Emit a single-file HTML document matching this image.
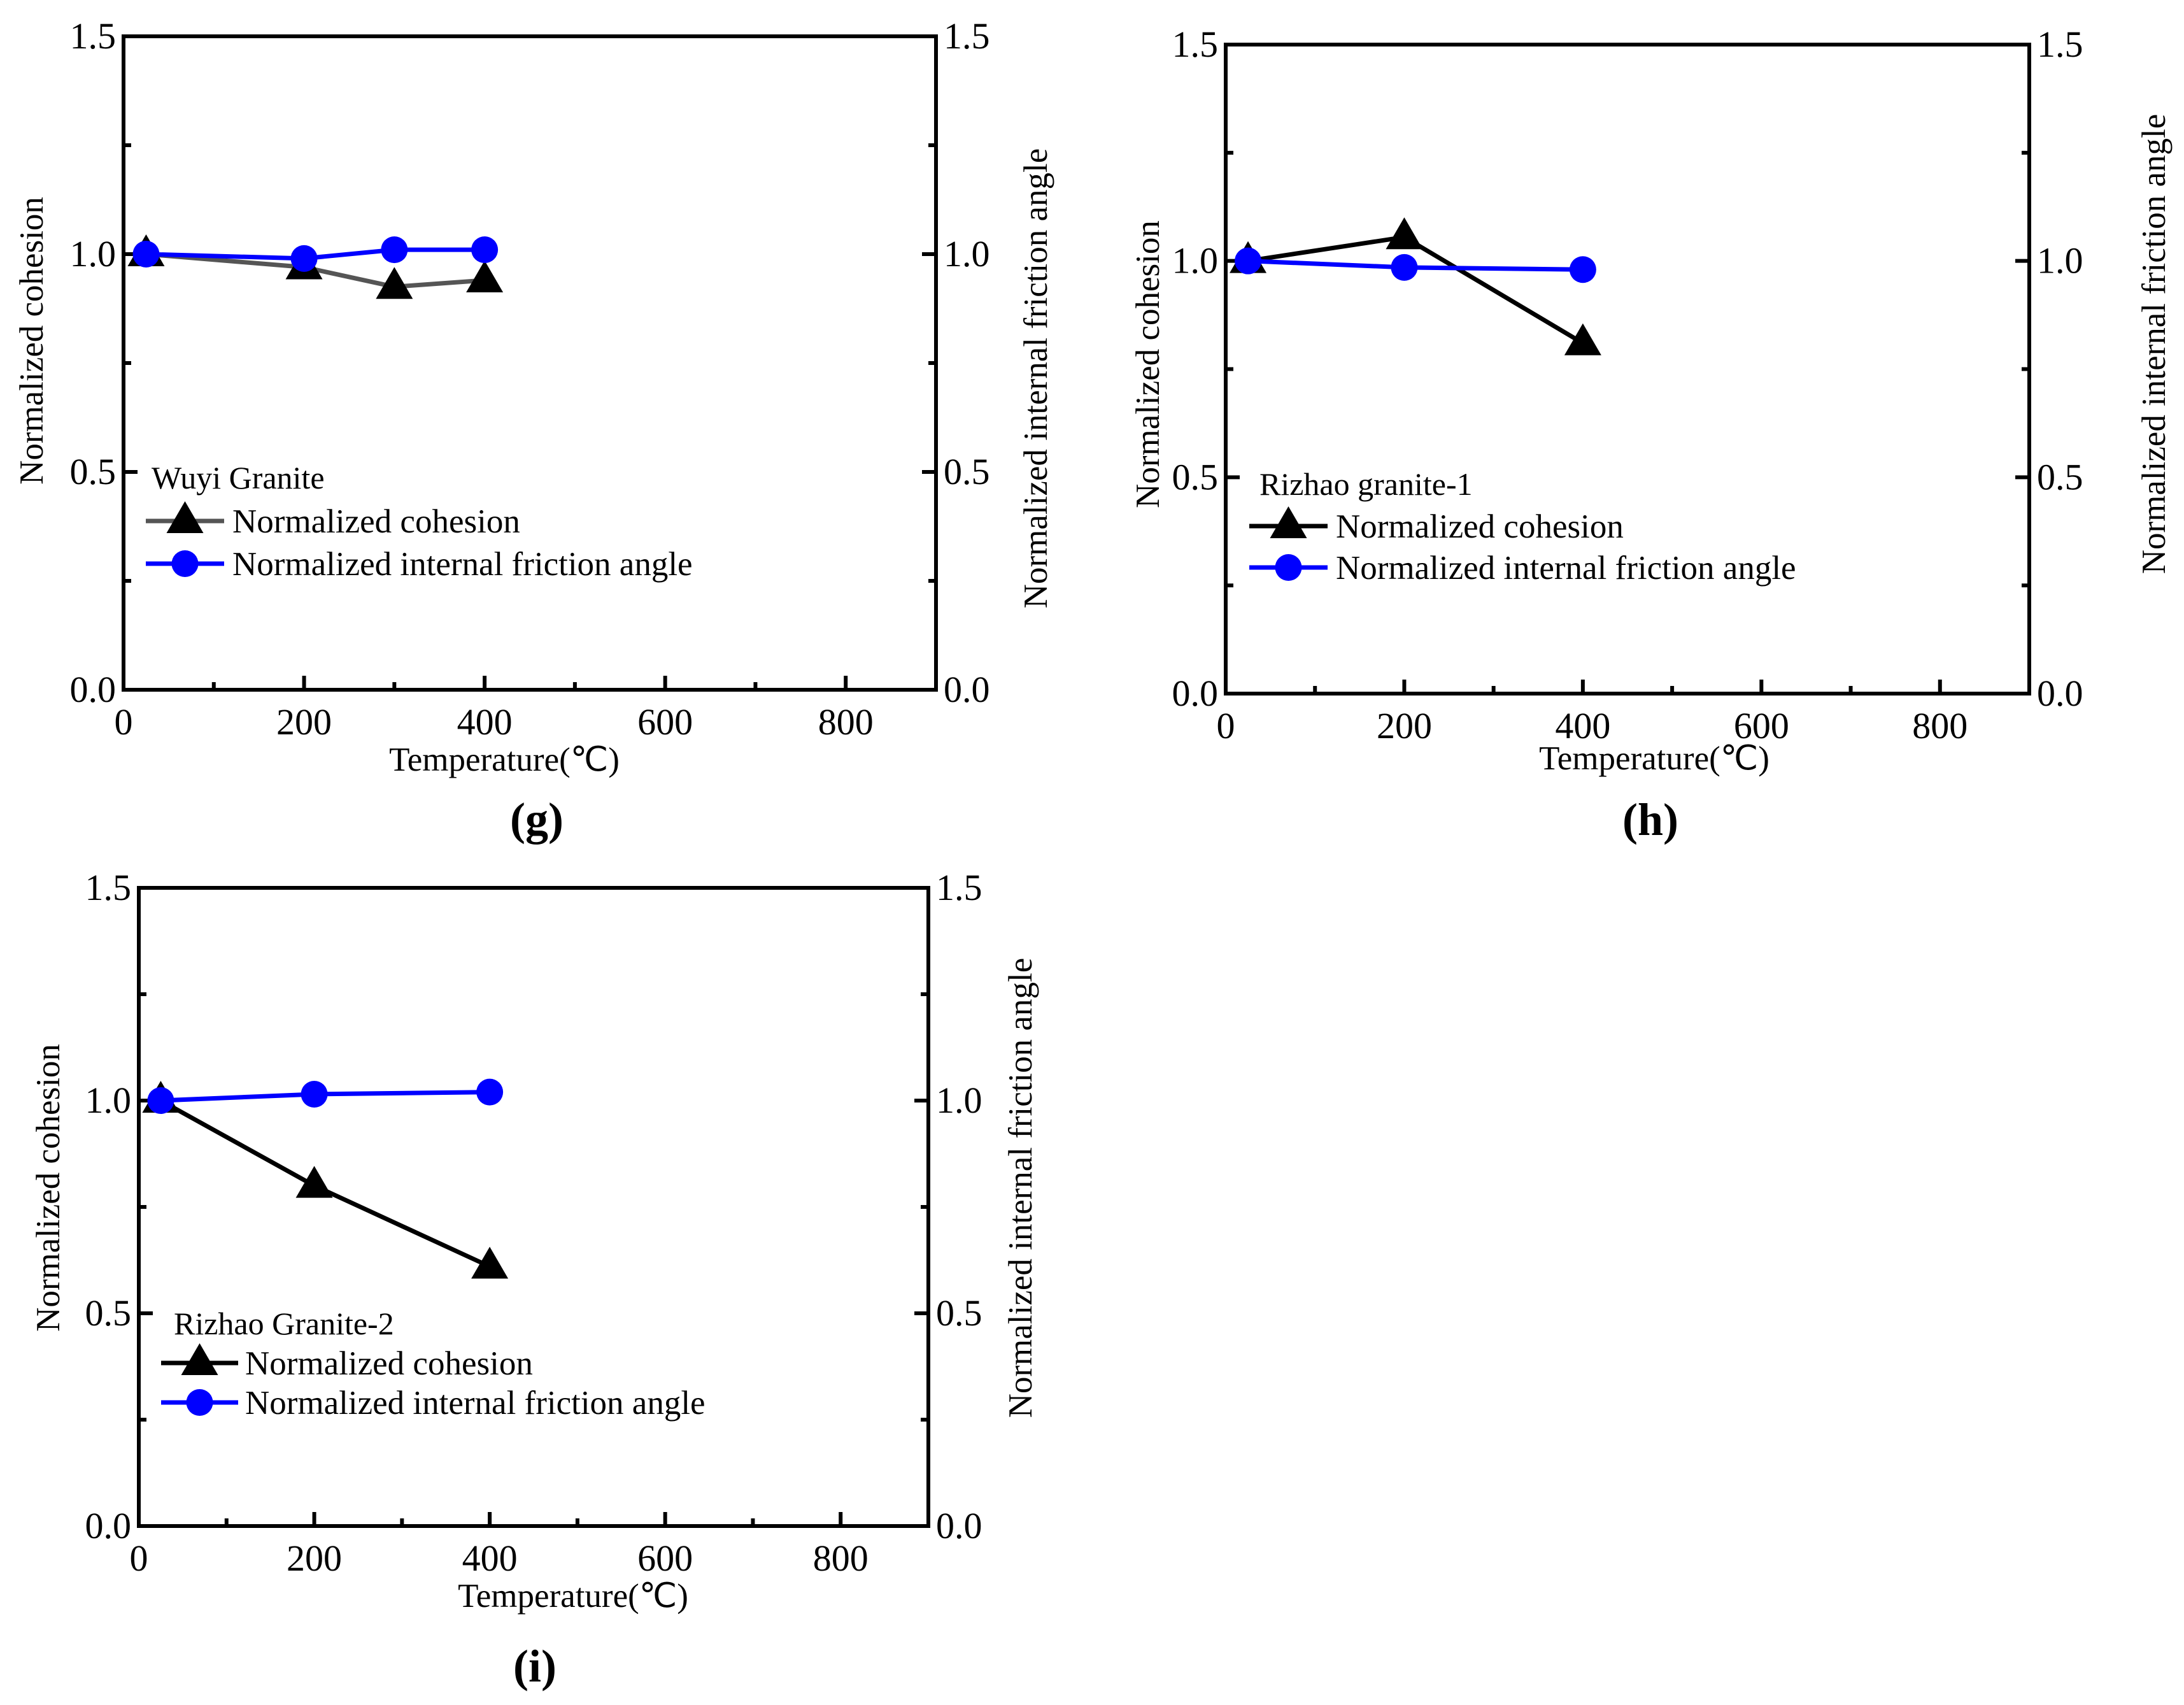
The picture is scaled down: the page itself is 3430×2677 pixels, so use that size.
<!DOCTYPE html>
<html><head><meta charset="utf-8"><style>
html,body{margin:0;padding:0;background:#fff}
svg{display:block;font-family:"Liberation Serif",serif}
</style></head><body>
<svg id="fig" width="3430" height="2677" viewBox="0 0 3430 2677" xmlns="http://www.w3.org/2000/svg"></svg>
<script>
const temps = [25, 200, 300, 400];
const gCohesion = [1.0, 0.97, 0.925, 0.94];
const gFriction = [1.0, 0.99, 1.01, 1.01];
const hTemps = [25, 200, 400];
const hCohesion = [1.0, 1.055, 0.81];
const hFriction = [1.0, 0.985, 0.98];
const iTemps = [25, 200, 400];
const iCohesion = [1.0, 0.8, 0.61];
const iFriction = [1.0, 1.015, 1.02];
const xTicks = [0, 200, 400, 600, 800];
const yTicks = [0.0, 0.5, 1.0, 1.5];

const svg = document.getElementById('fig');
const NS = 'http://www.w3.org/2000/svg';
function mk(tag, attrs, parent, text){
  const e = document.createElementNS(NS, tag);
  for (const k in attrs) e.setAttribute(k, attrs[k]);
  if (text !== undefined) e.textContent = text;
  (parent || svg).appendChild(e);
  return e;
}

const panels = [
  {id:'g', L:194, R:1470, T:57, B:1083, xs:temps, coh:gCohesion, fr:gFriction, cohColor:'#555555',
   legTitle:'Wuyi Granite', legX:238, legTY:750, lineX1:229, lineX2:352, ly1:818, ly2:885, textX:365,
   lyX:55, lyC:535, ryX:1632, ryC:594, xtC:792, xtY:1192, plC:843, plY:1286},
  {id:'h', L:1925, R:3187, T:70, B:1089, xs:hTemps, coh:hCohesion, fr:hFriction, cohColor:'#000000',
   legTitle:'Rizhao granite-1', legX:1978, legTY:760, lineX1:1962, lineX2:2085, ly1:826, ly2:891, textX:2098,
   lyX:1808, lyC:572, ryX:3388, ryC:540, xtC:2598, xtY:1190, plC:2592, plY:1287},
  {id:'i', L:218, R:1458, T:1394, B:2396, xs:iTemps, coh:iCohesion, fr:iFriction, cohColor:'#000000',
   legTitle:'Rizhao Granite-2', legX:273, legTY:2078, lineX1:253, lineX2:374, ly1:2140, ly2:2202, textX:385,
   lyX:81, lyC:1865, ryX:1608, ryC:1865, xtC:900, xtY:2505, plC:840, plY:2616}
];

function tri(g, cx, cy, s){
  const p = mk('polygon', {points:`${cx},${cy-s*0.62} ${cx-s*0.58},${cy+s*0.38} ${cx+s*0.58},${cy+s*0.38}`, fill:'#000'}, g);
  
  
  return p;
}
function circ(g, cx, cy, r){
  const c = mk('circle', {cx:cx, cy:cy, r:r, fill:'#0000ff'}, g);
  
  
  return c;
}

panels.forEach(P => {
  const g = mk('g', {});
  
  
  const xS = v => P.L + (v / 900) * (P.R - P.L);
  const yS = v => P.B - (v / 1.5) * (P.B - P.T);

  for (let v = 100; v < 900; v += 100) {
    const len = v % 200 === 0 ? 22 : 12;
    const t = mk('line', {x1:xS(v), x2:xS(v), y1:P.B, y2:P.B - len, stroke:'#000', 'stroke-width':6}, g);
    
    
  }
  for (let v = 0.25; v < 1.5; v += 0.25) {
    const major = Math.abs(v * 2 - Math.round(v * 2)) < 1e-6;
    const len = major ? 22 : 12;
    const a = mk('line', {x1:P.L, x2:P.L + len, y1:yS(v), y2:yS(v), stroke:'#000', 'stroke-width':6}, g);
    
    
    const b = mk('line', {x1:P.R, x2:P.R - len, y1:yS(v), y2:yS(v), stroke:'#000', 'stroke-width':6}, g);
    
    
  }
  const frame = mk('rect', {x:P.L, y:P.T, width:P.R - P.L, height:P.B - P.T, fill:'none', stroke:'#000', 'stroke-width':6}, g);
  
  

  xTicks.forEach(v => {
    const t = mk('text', {x:xS(v), y:P.B + 70, 'font-size':58, 'text-anchor':'middle'}, g, String(v));
    
    
  });
  yTicks.forEach(v => {
    const a = mk('text', {x:P.L - 12, y:yS(v) + 19, 'font-size':58, 'text-anchor':'end'}, g, v.toFixed(1));
    
    
    const b = mk('text', {x:P.R + 12, y:yS(v) + 19, 'font-size':58, 'text-anchor':'start'}, g, v.toFixed(1));
    
    
  });

  const lt = mk('text', {x:P.lyX, y:P.lyC, 'font-size':53, 'text-anchor':'middle', transform:`rotate(-90 ${P.lyX} ${P.lyC})`, 'dominant-baseline':'middle'}, g, 'Normalized cohesion');
  
  
  const rt = mk('text', {x:P.ryX, y:P.ryC, 'font-size':53, 'text-anchor':'middle', transform:`rotate(-90 ${P.ryX} ${P.ryC})`, 'dominant-baseline':'middle'}, g, 'Normalized internal friction angle');
  
  
  const xt = mk('text', {x:P.xtC, y:P.xtY + 18, 'font-size':53, 'text-anchor':'middle'}, g, 'Temperature(℃)');
  
  
  const pl = mk('text', {x:P.plC, y:P.plY + 24, 'font-size':72, 'font-weight':'bold', 'text-anchor':'middle'}, g, '(' + P.id + ')');
  
  

  const cPts = P.xs.map((x, i) => xS(x) + ',' + yS(P.coh[i])).join(' ');
  const cl = mk('polyline', {points:cPts, fill:'none', stroke:P.cohColor, 'stroke-width':7}, g);
  
  
  P.xs.forEach((x, i) => tri(g, xS(x), yS(P.coh[i]), 50));
  const fPts = P.xs.map((x, i) => xS(x) + ',' + yS(P.fr[i])).join(' ');
  const fl = mk('polyline', {points:fPts, fill:'none', stroke:'#0000ff', 'stroke-width':7}, g);
  
  
  P.xs.forEach((x, i) => circ(g, xS(x), yS(P.fr[i]), 21));

  const leg = mk('g', {}, g);
  
  
  const ttl = mk('text', {x:P.legX, y:P.legTY + 17, 'font-size':50}, leg, P.legTitle);
  
  
  const l1 = mk('line', {x1:P.lineX1, x2:P.lineX2, y1:P.ly1, y2:P.ly1, stroke:P.cohColor, 'stroke-width':7}, leg);
  
  
  tri(leg, (P.lineX1 + P.lineX2) / 2, P.ly1, 50);
  const t1 = mk('text', {x:P.textX, y:P.ly1 + 18, 'font-size':53}, leg, 'Normalized cohesion');
  
  
  const l2 = mk('line', {x1:P.lineX1, x2:P.lineX2, y1:P.ly2, y2:P.ly2, stroke:'#0000ff', 'stroke-width':7}, leg);
  
  
  circ(leg, (P.lineX1 + P.lineX2) / 2, P.ly2, 21);
  const t2 = mk('text', {x:P.textX, y:P.ly2 + 18, 'font-size':53}, leg, 'Normalized internal friction angle');
  
  
});
</script>
</body></html>
